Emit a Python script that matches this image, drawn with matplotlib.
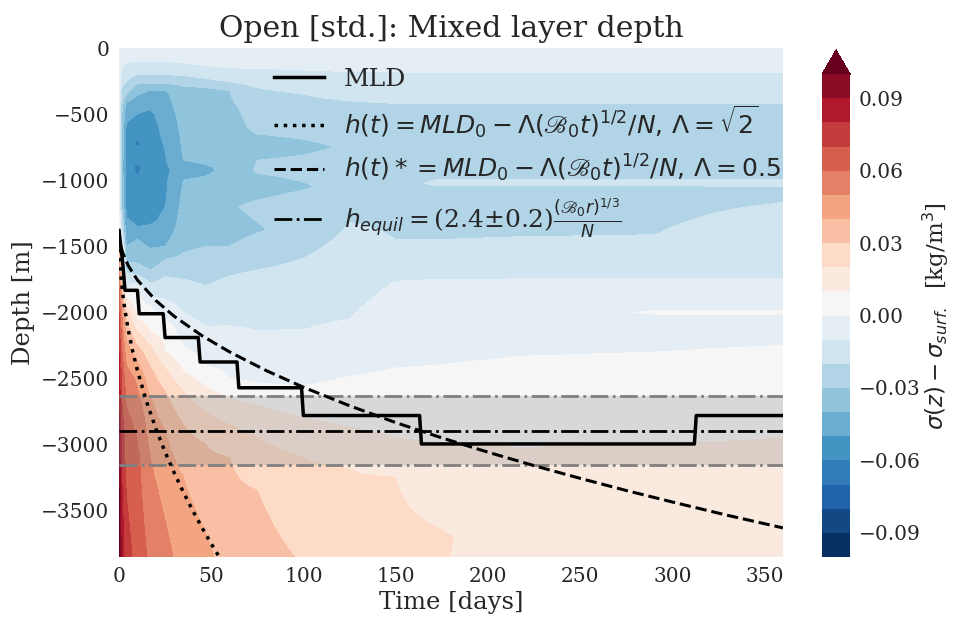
import numpy as np
import matplotlib.pyplot as plt
from matplotlib.colors import from_levels_and_colors

plt.rcParams['font.family'] = 'serif'
plt.rcParams['font.serif'] = ['DejaVu Serif']
plt.rcParams['mathtext.fontset'] = 'dejavusans'

# sigma(z) - sigma_surf profiles (1e-3 kg/m3) at a set of output days
profile_days = [0, 1.5, 4, 10, 17, 25, 35, 47, 60, 75, 100, 125, 150, 172, 220, 290, 360]
profile_depths = [
    [0, 400, 900, 1250, 1380, 1450, 1600, 1800, 2100, 2500, 3000, 3500, 3850],
    [0, 150, 300, 500, 900, 1200, 1400, 1500, 1600, 1750, 2000, 2400, 2900, 3400, 3850],
    [0, 120, 250, 350, 420, 600, 900, 1150, 1350, 1500, 1620, 1700, 1780, 1840, 1900, 2000, 2200, 2500, 2900, 3400, 3850],
    [0, 100, 200, 270, 400, 730, 800, 900, 1150, 1350, 1450, 1630, 1720, 1780, 1850, 2050, 2150, 2300, 2500, 2800, 3100, 3850],
    [0, 100, 200, 270, 330, 500, 900, 1100, 1300, 1450, 1550, 1650, 1780, 1880, 1950, 2150, 2250, 2450, 2700, 3100, 3850],
    [0, 100, 200, 270, 330, 600, 950, 1150, 1350, 1500, 1600, 1730, 1900, 2050, 2120, 2300, 2420, 2600, 2900, 3300, 3850],
    [0, 120, 210, 280, 500, 850, 922, 1000, 1126, 1300, 1500, 1600, 1750, 2000, 2150, 2250, 2450, 2600, 2850, 3250, 3850],
    [0, 140, 230, 290, 500, 850, 922, 1000, 1200, 1400, 1500, 1650, 1800, 2050, 2250, 2400, 2560, 2750, 3000, 3500, 3850],
    [0, 150, 260, 320, 500, 750, 922, 1050, 1200, 1375, 1500, 1650, 1800, 2100, 2350, 2500, 2650, 2850, 3100, 3850],
    [0, 160, 300, 450, 600, 750, 850, 922, 1050, 1200, 1375, 1500, 1650, 1800, 2140, 2400, 2540, 2700, 2950, 3350, 3850],
    [0, 170, 350, 600, 750, 900, 1050, 1200, 1375, 1550, 1800, 2130, 2450, 2560, 2800, 3100, 3850],
    [0, 180, 400, 600, 750, 900, 1050, 1200, 1500, 1800, 2050, 2400, 2480, 2870, 3180, 3850],
    [0, 185, 415, 750, 950, 1050, 1200, 1450, 1600, 1760, 2100, 2420, 2950, 3250, 3850],
    [0, 190, 420, 750, 950, 1020, 1080, 1300, 1450, 1600, 1750, 2100, 2400, 3000, 3550, 3700, 3850],
    [0, 190, 420, 750, 950, 1020, 1080, 1300, 1430, 1600, 1745, 2100, 2330, 3020, 3850],
    [0, 190, 420, 750, 950, 1020, 1080, 1300, 1420, 1600, 1745, 1950, 2000, 2050, 2300, 2990, 3850],
    [0, 190, 420, 750, 950, 1020, 1080, 1170, 1400, 1745, 1950, 2000, 2050, 2250, 2950, 3850],
]
profile_values = [
    [-2, -4, -3, 0, 5, 20, 40, 60, 75, 85, 95, 103, 108],
    [-5, -10, -20, -30, -35, -30, -15, 0, 10, 30, 50, 65, 75, 82, 86],
    [-6, -10, -20, -30, -42, -52, -56, -54, -48, -40, -30, -20, -10, 0, 10, 25, 40, 55, 64, 70, 74],
    [-6, -10, -20, -30, -45, -62, -55, -62, -55, -50, -40, -30, -20, -10, 0, 10, 20, 35, 48, 57, 62, 66],
    [-6, -10, -20, -30, -42, -52, -55, -56, -52, -44, -38, -33, -20, -10, 0, 10, 20, 32, 42, 50, 58],
    [-6, -10, -20, -30, -42, -48, -52, -51, -47, -40, -30, -20, -10, 0, 5, 10, 20, 30, 40, 47, 53],
    [-6, -10, -20, -30, -36, -40, -46, -40, -38, -36, -32, -28, -20, -10, -4, 0, 10, 20, 30, 40, 46],
    [-6, -10, -20, -30, -34, -38, -43, -38, -34, -33, -30, -24, -20, -12, -5, 0, 10, 20, 30, 38, 42],
    [-6, -10, -20, -30, -32, -36, -36, -35, -31, -34, -30, -22, -18, -10, -3, 0, 10, 20, 30, 36],
    [-6, -10, -20, -27, -28, -34, -30, -29, -34, -28, -31, -26, -21, -16, -10, -3, 0, 10, 20, 30, 34],
    [-6, -10, -20, -27, -32, -27, -31, -25, -26, -21, -15, -10, -3, 0, 10, 20, 29],
    [-6, -10, -20, -26, -29, -25, -27, -22, -17, -13, -10, -3, 0, 10, 20, 25],
    [-6, -10, -20, -26, -24, -21, -22, -20, -15, -10, -5, 0, 10, 20, 23],
    [-6, -10, -20, -25, -22, -19, -22, -21, -20, -15, -10, -4, 0, 10, 19, 21, 20.5],
    [-6, -10, -20, -25, -22, -19, -22, -21, -20, -14, -10, -4, 0, 10, 17],
    [-6, -10, -20, -25, -22, -19, -22, -21, -20, -14, -10, -3, 1, -3, 0, 10, 16],
    [-6, -10, -20, -25, -22, -19, -21, -20, -16, -10, -3, 1, -3, 0, 10, 16],
]

# mixed layer depth from the run
mld_days = [0, 2, 3.3, 10, 11, 24, 25, 43, 44, 64, 65, 99, 100, 163, 164, 312, 313, 360]
mld_depth = [-1380, -1620, -1833, -1833, -2010, -2010, -2190, -2190, -2375, -2375,
             -2570, -2570, -2780, -2780, -2995, -2995, -2780, -2780]

# h(t) with Lambda = sqrt(2)
h_sqrt2_days = [0, 0.25, 0.5, 1, 2, 3, 5, 7.5, 10, 15, 20, 25, 30, 35, 40, 45, 50, 55]
h_sqrt2_depth = [-1380, -1548, -1617, -1715, -1854, -1960, -2129, -2297, -2439, -2677,
                 -2878, -3055, -3215, -3362, -3499, -3627, -3749, -3864]

# h(t)* with Lambda = 0.5
h_half_days = [0, 0.25, 0.5, 1, 2, 5, 10, 20, 30, 45, 60, 80, 100, 125, 150, 175,
               200, 225, 250, 275, 300, 330, 360]
h_half_depth = [-1380, -1439, -1464, -1499, -1548, -1645, -1755, -1910, -2030, -2176,
                -2299, -2441, -2566, -2706, -2833, -2949, -3057, -3159, -3255, -3347,
                -3434, -3535, -3630]

# equilibrium depth and its uncertainty
h_equil = -2895
h_equil_low = -3155
h_equil_high = -2635

levels = np.linspace(-0.1, 0.1, 21)
colors = plt.get_cmap('RdBu_r')(np.linspace(0, 1, len(levels)))
cmap, norm = from_levels_and_colors(levels, colors, extend='max')

depth_grid = np.arange(0, 3851, 25)
field = np.column_stack([np.interp(depth_grid, d, v)
                         for d, v in zip(profile_depths, profile_values)]) / 1000.0

fig = plt.figure(figsize=(9.57, 6.21), dpi=100)
ax = fig.add_axes([0.1243, 0.1031, 0.6938, 0.8196])
cax = fig.add_axes([0.859, 0.1031, 0.0293, 0.8164])

cf = ax.contourf(profile_days, -depth_grid, field, levels=levels, cmap=cmap, norm=norm,
                 extend='max')

ax.fill_between([0, 360], h_equil_low, h_equil_high, color='gray', alpha=0.25, lw=0)
ax.axhline(h_equil_high, color='gray', ls='-.', lw=2)
ax.axhline(h_equil_low, color='gray', ls='-.', lw=2)

ax.plot(mld_days, mld_depth, color='k', lw=2.5, label='MLD')
ax.plot(h_sqrt2_days, h_sqrt2_depth, color='k', ls=':', lw=2.5,
        label=r'$h(t) = MLD_0 - \Lambda(\mathscr{B}_0t)^{1/2}/N,\, \Lambda = \sqrt{2}$')
ax.plot(h_half_days, h_half_depth, color='k', ls='--', lw=2.2,
        label=r'$h(t)* = MLD_0 - \Lambda(\mathscr{B}_0t)^{1/2}/N,\, \Lambda = 0.5$')
ax.axhline(h_equil, color='k', ls='-.', lw=2,
           label=r'$h_{equil} = $(2.4$\pm$0.2)$\frac{(\mathscr{B}_0r)^{1/3}}{N}$')

ax.set_xlim(0, 360)
ax.set_ylim(-3850, 0)
ax.set_xticks(np.arange(0, 351, 50))
ax.set_yticks(np.arange(-3500, 1, 500))
ax.tick_params(length=0, labelsize=14.5, colors='#262626', pad=7)
for s in ax.spines.values():
    s.set_visible(False)
ax.set_xlabel('Time [days]', fontsize=17.5, color='#262626')
ax.set_ylabel('Depth [m]', fontsize=17.5, color='#262626')
ax.set_title('Open [std.]: Mixed layer depth', fontsize=21.5, color='#262626', pad=8)

ax.legend(loc='upper left', bbox_to_anchor=(0.2, 1.005), frameon=False, fontsize=18,
          labelcolor='#262626', handlelength=2.0)

cb_ticks = np.arange(-0.09, 0.091, 0.03)
cb = fig.colorbar(cf, cax=cax, extend='max', ticks=cb_ticks)
cb.outline.set_visible(False)
cb.ax.minorticks_off()
cb.ax.tick_params(which='both', length=0, labelsize=14.5, colors='#262626', pad=6)
cb.ax.yaxis.set_major_formatter(plt.FuncFormatter(
    lambda v, p: ('%.2f' % v).replace('-', '\u2212') if abs(v) > 1e-9 else '0.00'))
cb.set_label(r'$\sigma(z) - \sigma_{surf.}$  [kg/m$^3$]', fontsize=16.5, color='#262626',
             labelpad=0)

fig.savefig('out.png', dpi=100)
